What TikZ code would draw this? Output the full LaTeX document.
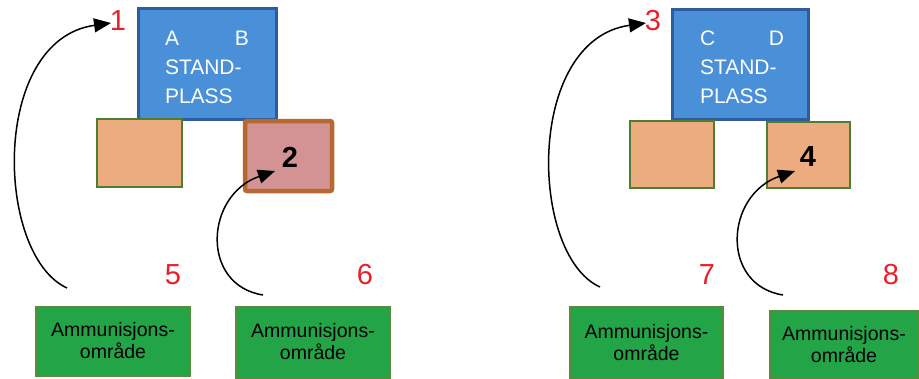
\documentclass[tikz,border=0pt]{standalone}
\usepackage{fontspec}
\setmainfont{Liberation Sans}
\usetikzlibrary{arrows.meta}
\definecolor{standfill}{HTML}{4A90D9}
\definecolor{standdraw}{HTML}{2E5C9E}
\definecolor{orfill}{HTML}{EDAC80}
\definecolor{ordraw}{HTML}{4E7F2E}
\definecolor{pkfill}{HTML}{D39394}
\definecolor{pkdraw}{HTML}{B5682F}
\definecolor{amfill}{HTML}{22A447}
\definecolor{amdraw}{HTML}{5B8A3A}
\definecolor{numred}{HTML}{E8202A}
\tikzset{
  standbox/.style={draw=standdraw, fill=standfill, line width=3pt, inner sep=0pt},
  standtext/.style={text=white, text width=84pt, align=left, inner sep=0pt,
    font=\fontsize{21}{29}\selectfont},
  orbox/.style={draw=ordraw, fill=orfill, line width=2.5pt, inner sep=0pt},
  pkbox/.style={draw=pkdraw, fill=pkfill, line width=4.5pt, rounded corners=2pt, inner sep=0pt},
  ambox/.style={draw=amdraw, fill=amfill, line width=2pt, inner sep=0pt, align=center,
    font=\fontsize{19.5}{22}\selectfont},
  rednum/.style={text=numred, inner sep=0pt, font=\fontsize{29}{30}\selectfont},
  blacknum/.style={inner sep=0pt, font=\fontsize{29}{30}\selectfont\bfseries},
  flow/.style={line width=1.5pt, -{Triangle[length=17pt,width=14pt]}},
}
\begin{document}
\begin{tikzpicture}[x=1pt,y=-1pt]
\useasboundingbox (0,0) rectangle (919,378);
% ---- left group
\node[standbox, minimum width=138pt, minimum height=111pt] (sA) at (207,63.5) {};
\node[standtext] (tA) at (207,67) {A\hfill B\\STAND-\\PLASS};
\node[orbox, minimum width=85pt, minimum height=68pt] (oA) at (139.5,153) {};
\node[pkbox, minimum width=87pt, minimum height=70pt] (pA) at (288.5,156) {};
\node[blacknum] (n2) at (290,157) {2};
\node[rednum] (n1) at (118,21) {1};
\node[rednum] (n5) at (173,275) {5};
\node[rednum] (n6) at (365,275) {6};
\node[ambox, minimum width=154pt, minimum height=69pt] (a5) at (113,341) {Ammunisjons-\\område};
\node[ambox, minimum width=154pt, minimum height=71pt] (a6) at (313,342) {Ammunisjons-\\område};
\coordinate (s1) at (67,288);
\coordinate (e1) at (111,23);
\coordinate (s2) at (263,295);
\coordinate (e2) at (275,171);
\draw[flow] (s1) .. controls (-5,255) and (-10,40) .. (e1);
\draw[flow] (s2) .. controls (200,285) and (205,195) .. (e2);
% ---- right group
\node[standbox, minimum width=136pt, minimum height=110pt] (sC) at (740,64) {};
\node[standtext] (tC) at (742,67) {C\hfill D\\STAND-\\PLASS};
\node[orbox, minimum width=84pt, minimum height=67pt] (oC) at (672,154.5) {};
\node[orbox, minimum width=83pt, minimum height=66pt] (oD) at (808.5,155) {};
\node[blacknum] (n4) at (808,157) {4};
\node[rednum] (n3) at (653,21) {3};
\node[rednum] (n7) at (707,275) {7};
\node[rednum] (n8) at (891,275) {8};
\node[ambox, minimum width=153pt, minimum height=71pt] (a7) at (646.5,342.5) {Ammunisjons-\\område};
\node[ambox, minimum width=148pt, minimum height=67pt] (a8) at (844,344.5) {Ammunisjons-\\område};
\coordinate (s3) at (600,287);
\coordinate (e3) at (646,23);
\coordinate (s4) at (783,295);
\coordinate (e4) at (795,171);
\draw[flow] (s3) .. controls (529,255) and (525,40) .. (e3);
\draw[flow] (s4) .. controls (720,285) and (725,195) .. (e4);
\end{tikzpicture}
\end{document}
